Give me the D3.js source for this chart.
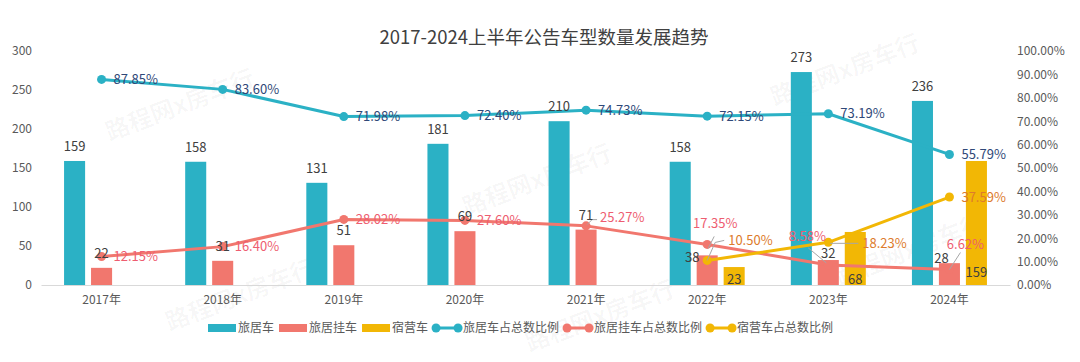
<!DOCTYPE html>
<html>
<head>
<meta charset="utf-8">
<script src="https://cdn.jsdelivr.net/npm/d3@7"></script>
<style>
    body { margin: 0; background: #fff; }
    svg { font-family: "Noto Sans CJK SC", "Noto Sans", sans-serif; }
</style>
</head>
<body>
<svg width="1080" height="362"></svg>
<script>
var years = ["2017年", "2018年", "2019年", "2020年", "2021年", "2022年", "2023年", "2024年"];
var rvCount = [159, 158, 131, 181, 210, 158, 273, 236];
var trailerCount = [22, 31, 51, 69, 71, 38, 32, 28];
var campCount = [null, null, null, null, null, 23, 68, 159];
var rvShare = [87.85, 83.60, 71.98, 72.40, 74.73, 72.15, 73.19, 55.79];
var trailerShare = [12.15, 16.40, 28.02, 27.60, 25.27, 17.35, 8.58, 6.62];
var campShare = [null, null, null, null, null, 10.50, 18.23, 37.59];
var leftTicks = [0, 50, 100, 150, 200, 250, 300];
var rightTicks = [0, 10, 20, 30, 40, 50, 60, 70, 80, 90, 100];

var colors = { rv: "#2bb1c5", trailer: "#f1776e", camp: "#f2b705" };

// hand tweaks for labels that collide (offsets from default spot, leader points relative to mark)
var barTweak = {
    trailer: {
        4: { dx: 0, dy: 0, leader: [[1, 7], [6, 2], [11, 2]] },
        5: { dx: -15, dy: 17 },
        6: { dx: 0, dy: 8 },
        7: { dx: -8, dy: 10 }
    },
    camp: { 5: { inside: 1 }, 6: { inside: 1 }, 7: { inside: 8 } }
};
var pctTweak = {
    trailer: {
        4: { dx: 2, dy: -8 },
        5: { anchor: "middle", dx: 8, dy: -21, leader: [[1, 4], [7, -8]] },
        6: { anchor: "middle", dx: -21, dy: -28, leader: [[-2, -2], [-20, -17]] },
        7: { anchor: "middle", dx: 16, dy: -25, leader: [[0, 0], [11, -17]] }
    },
    camp: {
        5: { dx: 9, dy: -20, leader: [[0, 0], [8, -18], [17, -20]] },
        6: { dx: 22, dy: 1, leader: [[2, 1], [30, 1]] }
    }
};

var svg = d3.select("svg");

var x0 = d3.scaleBand().domain(years).range([41, 1010]);
var bw = x0.bandwidth();
var x1 = d3.scaleBand().domain(["rv", "trailer", "camp"])
    .range([(bw - 75) / 2, (bw + 75) / 2]).paddingInner(0.22);
var yL = d3.scaleLinear().domain([0, 300]).range([285, 51]);
var yR = d3.scaleLinear().domain([0, 100]).range([285, 51]);

function cx(i) { return x0(years[i]) + bw / 2; }

// watermark
var marks = [[180, 105], [537, 180], [845, 70], [240, 295], [600, 316], [910, 250]];
svg.append("g").selectAll("text")
    .data(marks)
    .enter().append("text")
    .attr("transform", function (d) { return "translate(" + d[0] + "," + d[1] + ") rotate(-21)"; })
    .attr("text-anchor", "middle")
    .attr("dy", "0.35em")
    .attr("font-size", 24)
    .attr("font-weight", "bold")
    .attr("fill", "#000")
    .attr("fill-opacity", 0.035)
    .text("路程网x房车行");

// title
svg.append("text")
    .attr("x", 544)
    .attr("y", 44)
    .attr("text-anchor", "middle")
    .attr("font-size", 18.5)
    .attr("fill", "#404040")
    .text("2017-2024上半年公告车型数量发展趋势");

// axes
var axL = svg.append("g")
    .attr("transform", "translate(41,0)")
    .call(d3.axisLeft(yL).tickValues(leftTicks).tickSize(0).tickPadding(9));
axL.select(".domain").remove();

var axR = svg.append("g")
    .attr("transform", "translate(1010,0)")
    .call(d3.axisRight(yR).tickValues(rightTicks).tickSize(0).tickPadding(7)
        .tickFormat(function (d) { return d.toFixed(2) + "%"; }));
axR.select(".domain").remove();

var axB = svg.append("g")
    .attr("transform", "translate(0,285)")
    .call(d3.axisBottom(x0).tickSize(0).tickSizeOuter(0).tickPadding(10));
axB.select(".domain").attr("stroke", "#d9d9d9");

svg.selectAll(".tick text")
    .attr("font-size", 12)
    .attr("font-family", "Noto Sans CJK SC, sans-serif")
    .attr("fill", "#595959");

// bars
var barSeries = [
    { key: "rv", values: rvCount },
    { key: "trailer", values: trailerCount },
    { key: "camp", values: campCount }
];

barSeries.forEach(function (s) {
    var rows = s.values.map(function (v, i) { return { v: v, i: i }; })
        .filter(function (d) { return d.v != null; });

    svg.append("g").selectAll("rect")
        .data(rows)
        .enter().append("rect")
        .attr("x", function (d) { return x0(years[d.i]) + x1(s.key); })
        .attr("y", function (d) { return yL(d.v); })
        .attr("width", x1.bandwidth())
        .attr("height", function (d) { return yL(0) - yL(d.v); })
        .attr("fill", colors[s.key]);
});

// lines
var lineSeries = [
    { key: "rv", values: rvShare, label: "#2f4878" },
    { key: "trailer", values: trailerShare, label: "#ee5d70" },
    { key: "camp", values: campShare, label: "#dd7b2c" }
];

var line = d3.line()
    .defined(function (d) { return d != null; })
    .x(function (d, i) { return cx(i); })
    .y(function (d) { return yR(d); });

lineSeries.forEach(function (s) {
    svg.append("path")
        .datum(s.values)
        .attr("fill", "none")
        .attr("stroke", colors[s.key])
        .attr("stroke-width", 3)
        .attr("stroke-linejoin", "round")
        .attr("d", line);

    var pts = s.values.map(function (v, i) { return { v: v, i: i }; })
        .filter(function (d) { return d.v != null; });

    svg.append("g").selectAll("circle")
        .data(pts)
        .enter().append("circle")
        .attr("cx", function (d) { return cx(d.i); })
        .attr("cy", function (d) { return yR(d.v); })
        .attr("r", 4.5)
        .attr("fill", colors[s.key]);
});

// bar value labels
var leaders = svg.append("g")
    .attr("fill", "none")
    .attr("stroke", "#a6a6a6")
    .attr("stroke-width", 1);

barSeries.forEach(function (s) {
    s.values.forEach(function (v, i) {
        if (v == null) return;
        var bx = x0(years[i]) + x1(s.key) + x1.bandwidth() / 2;
        var top = yL(v);
        var t = (barTweak[s.key] || {})[i] || {};
        var lx = bx, ly = top - 10;
        if (t.inside) {
            ly = yL(0) - t.inside;
        } else {
            lx += t.dx || 0;
            ly += t.dy || 0;
        }
        if (t.leader) {
            leaders.append("path")
                .attr("d", d3.line()(t.leader.map(function (p) { return [bx + p[0], top + p[1] - 12]; })));
        }
        svg.append("text")
            .attr("x", lx)
            .attr("y", ly)
            .attr("text-anchor", "middle")
            .attr("font-size", 13)
            .attr("fill", "#404040")
            .text(v);
    });
});

// percentage labels
lineSeries.forEach(function (s) {
    s.values.forEach(function (v, i) {
        if (v == null) return;
        var px = cx(i), py = yR(v);
        var t = (pctTweak[s.key] || {})[i] || {};
        var anchor = t.anchor || "start";
        var lx = px + (t.anchor ? 0 : 12) + (t.dx || 0);
        var ly = py + (t.dy || 0);
        if (t.leader) {
            leaders.append("path")
                .attr("d", d3.line()(t.leader.map(function (p) { return [px + p[0], py + p[1]]; })));
        }
        svg.append("text")
            .attr("x", lx)
            .attr("y", ly)
            .attr("dy", "0.35em")
            .attr("text-anchor", anchor)
            .attr("font-size", 13)
            .attr("fill", s.label)
            .text(v.toFixed(2) + "%");
    });
});

// legend
var legendItems = [
    { name: "旅居车", key: "rv", type: "bar" },
    { name: "旅居挂车", key: "trailer", type: "bar" },
    { name: "宿营车", key: "camp", type: "bar" },
    { name: "旅居车占总数比例", key: "rv", type: "line" },
    { name: "旅居挂车占总数比例", key: "trailer", type: "line" },
    { name: "宿营车占总数比例", key: "camp", type: "line" }
];

var lg = svg.append("g").attr("transform", "translate(208,328)");
var lx = 0;
legendItems.forEach(function (d) {
    var g = lg.append("g").attr("transform", "translate(" + lx + ",0)");
    if (d.type == "bar") {
        g.append("rect")
            .attr("x", 0).attr("y", -4)
            .attr("width", 28).attr("height", 8)
            .attr("fill", colors[d.key]);
    } else {
        g.append("line")
            .attr("x1", 2).attr("x2", 26)
            .attr("stroke", colors[d.key]).attr("stroke-width", 3);
        g.append("circle").attr("cx", 3).attr("r", 4.5).attr("fill", colors[d.key]);
        g.append("circle").attr("cx", 25).attr("r", 4.5).attr("fill", colors[d.key]);
    }
    var txt = g.append("text")
        .attr("x", 30)
        .attr("dy", "0.35em")
        .attr("font-size", 12)
        .attr("fill", "#595959")
        .text(d.name);
    lx += 30 + txt.node().getComputedTextLength() + 5;
});
</script>
</body>
</html>
